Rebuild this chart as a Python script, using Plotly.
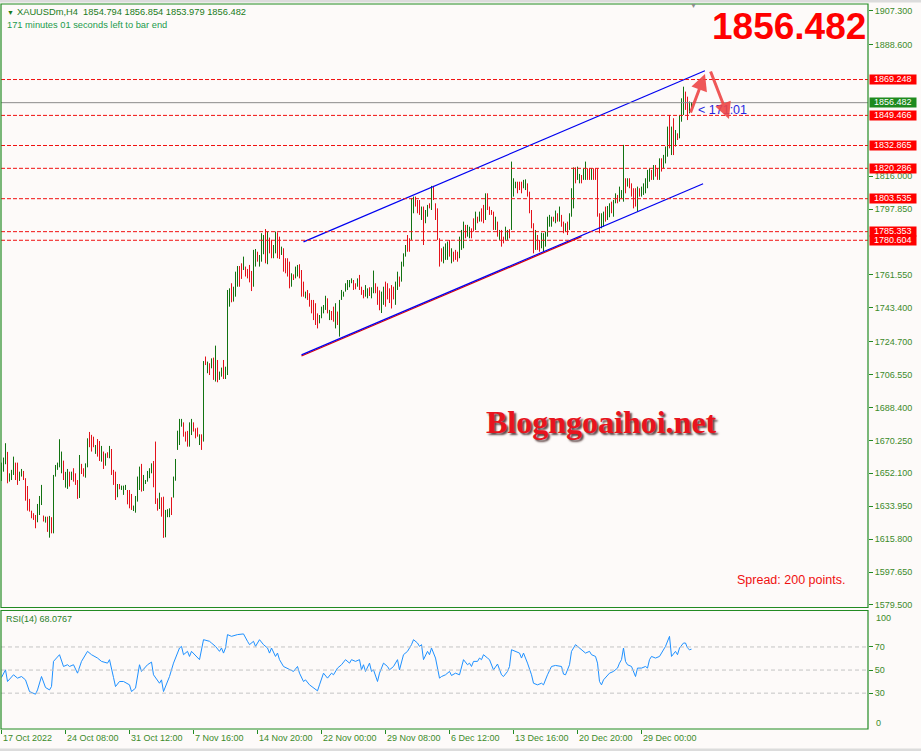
import plotly.graph_objects as go

# ------------------------------------------------------------------ data
dirs = list(
    "GGGRGGGRRG" "GRRRRRRRGG" "GRGRGRGGGG" "GRGGRGRRRG" "RRGGRRRGRR" "GRGRGRRRGR" "GGGRRRGGGG" "RGGGGGRRRG" "RRGGGRG"
    "G"
    "GGGRRRGGRR" "RGRGRGRGRG" "RGGRGGGRGG" "GRRGRRRRGG" "RGGGRGRRGG" "RRGRRRRGRG" "GRRRGRRRRR" "RGGGGRGRRG" "RGGG"
    "GGGGRRGRRR" "GGRGGRRRGG" "RRRRRGGRGG" "GRRGGRRRGR" "GGRGRRRRRG" "GGRGRRRGGG" "RGGRRGRGRR" "GRRRRGRGRR" "GGRGGGR"
    "RRGGRRRRGR" "RGGGGGGRGR" "GRRGRGGGRG" "GRGGRRGRRR" "RGGRGGRGGR" "GGGRGRRRRG" "RGGGGGRGRR" "GRGGGRGRGR" "GGGRRGG"
)

highs = [
    1658.0, 1660.8, 1668.7, 1663.9, 1652.1, 1654.0, 1661.3, 1658.0, 1658.0, 1653.0,
    1654.5, 1653.4, 1649.4, 1645.1, 1638.0, 1631.5, 1630.1, 1629.1, 1635.2, 1639.6,
    1645.7, 1628.8, 1628.2, 1628.2, 1628.6, 1627.9, 1651.2, 1656.7, 1658.0, 1670.9,
    1664.1, 1659.1, 1652.9, 1654.5, 1653.0, 1653.0, 1654.9, 1652.1, 1648.4, 1662.2,
    1657.3, 1654.9, 1657.6, 1671.4, 1674.9, 1673.3, 1672.3, 1667.7, 1671.0, 1669.9,
    1667.2, 1664.1, 1663.1, 1663.7, 1667.2, 1665.5, 1654.0, 1653.0, 1646.2, 1646.2,
    1645.3, 1645.3, 1645.7, 1642.9, 1642.9, 1640.7, 1634.3, 1639.6, 1650.3, 1655.8,
    1657.3, 1651.2, 1648.4, 1653.4, 1654.9, 1657.6, 1658.9, 1669.6, 1638.3, 1641.4,
    1638.9, 1639.2, 1631.9, 1632.3, 1632.8, 1638.9, 1650.3,
    1660.0,
    1675.6, 1682.1, 1682.1, 1680.2, 1675.1, 1675.5, 1680.2, 1682.1, 1680.2, 1676.9,
    1677.3, 1673.6, 1673.6, 1714.0, 1716.5, 1713.7, 1712.8, 1715.5, 1715.9, 1722.5,
    1714.6, 1708.2, 1710.4, 1714.6, 1710.9, 1753.2, 1754.1, 1756.9, 1755.0, 1763.3,
    1766.4, 1766.4, 1767.9, 1771.6, 1766.1, 1764.8, 1767.0, 1763.7, 1775.3, 1775.8,
    1774.3, 1772.5, 1784.5, 1783.5, 1786.8, 1785.4, 1782.1, 1780.8, 1778.0, 1785.4,
    1785.0, 1782.6, 1777.1, 1776.2, 1770.7, 1770.7, 1768.8, 1762.4, 1761.8, 1766.1,
    1767.0, 1767.4, 1764.2, 1757.8, 1752.3, 1753.2, 1751.4, 1747.7, 1747.7, 1745.9,
    1740.3, 1739.4, 1744.0, 1744.9, 1750.0, 1748.6, 1742.2, 1741.6, 1744.0, 1745.9,
    1741.3, 1747.7, 1753.2, 1752.3,
    1756.9, 1758.7, 1758.7, 1759.6, 1758.7, 1756.9, 1759.6, 1761.5, 1755.0, 1753.2,
    1755.9, 1754.1, 1754.7, 1754.7, 1763.9, 1756.9, 1755.0, 1753.0, 1752.3, 1755.0,
    1757.8, 1756.9, 1754.1, 1755.9, 1755.0, 1757.8, 1763.3, 1760.6, 1768.8, 1773.4,
    1778.0, 1783.5, 1781.7, 1803.8, 1804.7, 1804.7, 1802.8, 1802.8, 1799.2, 1799.2,
    1797.3, 1800.1, 1801.0, 1810.6, 1810.6, 1801.0, 1798.2, 1781.7, 1776.2, 1777.1,
    1778.9, 1779.9, 1780.8, 1776.2, 1774.3, 1775.3, 1774.3, 1782.6, 1786.3, 1790.9,
    1789.1, 1789.1, 1788.1, 1787.2, 1792.7, 1796.4, 1793.6, 1796.4, 1798.2, 1800.1,
    1806.5, 1806.5, 1799.2, 1797.3, 1796.4, 1793.6, 1790.9, 1786.3, 1786.3, 1782.6,
    1788.1, 1786.3, 1786.7, 1824.0, 1814.8, 1812.9, 1812.9,
    1812.9, 1812.9, 1813.9, 1814.2, 1812.0, 1807.4, 1797.3, 1790.0, 1786.3, 1783.5,
    1780.8, 1784.8, 1784.5, 1785.4, 1793.6, 1794.6, 1793.6, 1793.6, 1797.0, 1795.5,
    1799.2, 1794.6, 1790.9, 1790.0, 1790.9, 1795.5, 1809.3, 1820.8, 1820.8, 1821.2,
    1817.2, 1816.6, 1820.3, 1824.0, 1820.3, 1820.3, 1820.3, 1820.3, 1820.3, 1820.3,
    1795.5, 1795.5, 1796.4, 1799.2, 1799.5, 1801.0, 1801.9, 1802.8, 1806.5, 1805.6,
    1810.2, 1808.3, 1833.2, 1814.8, 1814.8, 1814.8, 1812.0, 1809.3, 1809.3, 1810.2,
    1809.3, 1810.2, 1812.0, 1814.8, 1819.4, 1820.3, 1819.4, 1822.1, 1822.1, 1820.3,
    1825.8, 1825.8, 1827.7, 1832.3, 1843.3, 1849.7, 1843.3, 1847.9, 1841.4, 1839.6,
    1849.7, 1858.9, 1865.3, 1862.6, 1859.8, 1857.1, 1856.854,
]

lows = [
    1647.9, 1653.0, 1657.1, 1646.6, 1647.5, 1648.4, 1651.2, 1648.4, 1645.7, 1647.9,
    1650.3, 1648.4, 1637.0, 1631.5, 1631.0, 1627.3, 1626.4, 1621.8, 1625.1, 1629.1,
    1634.6, 1625.5, 1624.9, 1619.8, 1616.6, 1619.0, 1619.0, 1650.3, 1654.0, 1655.4,
    1652.1, 1648.4, 1644.2, 1643.5, 1644.8, 1648.4, 1647.5, 1645.7, 1638.0, 1638.5,
    1651.7, 1650.3, 1649.7, 1655.4, 1666.5, 1664.1, 1666.5, 1662.8, 1661.3, 1658.9,
    1658.5, 1654.5, 1656.3, 1660.6, 1660.4, 1651.2, 1645.7, 1637.4, 1638.9, 1643.3,
    1642.9, 1640.2, 1642.9, 1635.0, 1632.8, 1631.9, 1631.3, 1630.4, 1636.5, 1642.9,
    1642.0, 1642.4, 1646.2, 1647.5, 1649.4, 1652.1, 1644.4, 1635.2, 1631.5, 1632.4,
    1628.2, 1616.5, 1616.8, 1627.9, 1627.9, 1629.1, 1638.7,
    1648.0,
    1665.0, 1667.7, 1677.8, 1672.3, 1669.6, 1666.8, 1666.8, 1673.2, 1675.1, 1671.4,
    1672.3, 1667.7, 1665.0, 1669.6, 1711.8, 1707.3, 1706.3, 1710.0, 1703.6, 1702.7,
    1702.3, 1703.6, 1705.4, 1704.1, 1704.1, 1706.3, 1744.0, 1746.4, 1746.8, 1749.5,
    1755.0, 1755.0, 1759.3, 1764.2, 1760.6, 1759.6, 1757.4, 1752.6, 1755.0, 1766.1,
    1768.8, 1766.1, 1768.8, 1772.9, 1767.9, 1767.4, 1773.4, 1770.7, 1770.7, 1773.4,
    1770.7, 1770.3, 1772.5, 1763.3, 1762.4, 1760.6, 1754.1, 1755.0, 1758.7, 1759.6,
    1760.6, 1759.6, 1749.5, 1749.5, 1748.6, 1747.7, 1744.0, 1740.3, 1736.6, 1733.9,
    1732.0, 1734.8, 1737.6, 1740.3, 1742.2, 1740.3, 1736.6, 1736.6, 1735.7, 1732.0,
    1733.9, 1727.5, 1747.7, 1749.5,
    1752.3, 1753.2, 1754.7, 1756.9, 1753.2, 1753.6, 1755.0, 1753.2, 1750.5, 1748.6,
    1749.5, 1748.6, 1749.9, 1748.6, 1751.4, 1751.4, 1745.0, 1742.0, 1740.5, 1745.0,
    1744.0, 1748.0, 1746.0, 1743.0, 1748.0, 1745.0, 1753.2, 1755.0, 1757.8, 1766.1,
    1771.6, 1774.3, 1774.3, 1780.8, 1795.5, 1799.2, 1795.5, 1794.6, 1791.8, 1778.0,
    1790.0, 1793.6, 1798.2, 1797.3, 1802.8, 1791.8, 1780.8, 1766.1, 1768.8, 1767.9,
    1769.8, 1769.8, 1771.6, 1767.9, 1768.8, 1769.8, 1768.8, 1770.7, 1775.3, 1776.2,
    1781.7, 1782.6, 1781.7, 1781.7, 1785.4, 1786.3, 1790.0, 1790.9, 1790.9, 1790.0,
    1791.8, 1797.3, 1794.6, 1794.6, 1786.3, 1786.3, 1782.6, 1780.8, 1777.1, 1778.9,
    1780.8, 1780.8, 1781.7, 1786.3, 1804.7, 1809.3, 1806.5,
    1808.3, 1806.5, 1809.3, 1808.3, 1804.7, 1795.5, 1787.2, 1773.4, 1775.3, 1775.3,
    1774.3, 1776.2, 1774.3, 1777.1, 1782.6, 1788.1, 1788.1, 1790.9, 1790.0, 1790.9,
    1790.9, 1788.1, 1784.5, 1785.4, 1783.5, 1786.3, 1793.6, 1798.2, 1812.0, 1813.9,
    1812.0, 1812.0, 1813.9, 1813.9, 1813.9, 1813.9, 1813.9, 1813.9, 1813.9, 1793.6,
    1784.5, 1787.2, 1788.1, 1790.9, 1791.8, 1793.3, 1795.5, 1793.6, 1801.0, 1801.0,
    1801.9, 1803.8, 1801.9, 1806.5, 1810.2, 1809.3, 1804.7, 1798.2, 1799.2, 1796.4,
    1804.7, 1804.7, 1805.6, 1806.5, 1809.3, 1812.9, 1813.9, 1813.9, 1815.7, 1813.9,
    1813.9, 1818.5, 1820.3, 1823.0, 1826.7, 1831.3, 1827.6, 1827.6, 1832.3, 1835.9,
    1836.8, 1846.0, 1849.7, 1852.5, 1846.9, 1850.6, 1853.979,
]

rsi_bar = [
    0, 2, 3, 6, 8, 10, 12, 14, 17, 18, 20, 22, 24, 25, 26, 29, 31, 33, 34, 36, 38, 40, 43, 45, 48,
    50, 53, 54, 56, 57, 59, 61, 64, 65, 67, 69, 70, 73, 75, 76, 79, 80, 81, 83, 84, 86, 89, 90, 91,
    93, 94, 95, 98, 99, 101, 104, 105, 107, 109, 110, 111, 112, 113, 115, 118, 121, 123, 124, 126,
    127, 129, 131, 133, 134, 135, 137, 138, 139, 141, 144, 146, 148, 149, 151, 152, 154, 157, 158,
    159, 161, 163, 165, 166, 168, 170, 172, 174, 175, 177, 179, 180, 181, 182, 184, 185, 186, 188,
    189, 191, 193, 194, 196, 198, 199, 201, 203, 205, 206, 208, 209, 210, 211, 213, 214, 215, 217,
    219, 220, 222, 224, 225, 227, 229, 231, 233, 234, 235, 236, 238, 239, 240, 241, 243, 244, 246,
    248, 250, 251, 253, 254, 255, 257, 259, 260, 261, 263, 265, 266, 268, 270, 271, 273, 275, 277,
    280, 281, 282, 284, 285, 287, 289, 291, 292, 294, 295, 297, 298, 299, 300, 301, 303, 304, 306,
    308, 309, 310, 311, 312, 313, 315, 317, 318, 320, 322, 323, 324, 325, 327, 329, 330, 332, 334,
    335, 337, 338, 339, 341, 342, 343, 344, 345,
]
rsi_value = [
    43.6, 50.2, 40.1, 45.9, 43.0, 44.4, 41.5, 31.4, 29.1, 32.8, 44.4, 34.9, 32.8, 35.7, 57.5, 63.3,
    53.1, 54.6, 53.1, 54.6, 47.3, 57.5, 66.2, 63.3, 60.4,
    57.5, 56.0, 59.0, 43.6, 35.7, 40.1, 40.1, 37.2, 31.4, 34.3, 54.6, 48.8, 54.6, 56.9, 45.9, 38.6,
    41.5, 31.4, 40.1, 44.4, 56.0, 69.1, 70.5, 63.3,
    66.2, 61.8, 66.2, 60.4, 59.0, 76.3, 74.9, 73.4, 70.5, 66.2, 69.1, 64.7, 69.1, 80.7, 79.2, 80.7,
    81.3, 74.9, 72.0, 74.9,
    70.5, 76.3, 72.0, 69.1, 64.7, 69.1, 61.8, 64.7, 59.0, 53.1, 50.2, 48.8, 53.1, 47.3, 40.1, 41.5,
    37.2, 32.8, 32.0,
    37.2, 47.3, 43.0, 47.3, 45.9, 51.7, 54.6, 59.0, 56.0, 59.0, 57.5, 59.0, 50.2, 54.6, 48.8, 56.0,
    48.8, 50.2, 40.1,
    47.3, 56.0, 53.1, 50.2, 53.1, 59.0, 50.2, 63.3, 66.2, 72.0, 76.3, 73.4, 70.5, 72.0, 59.0, 66.2,
    63.3, 69.1, 60.4,
    43.0, 44.4, 45.9, 48.8, 45.3, 47.3, 45.9, 59.0, 54.6, 56.0, 53.1, 57.5, 57.5, 60.4, 59.0, 63.3,
    60.4, 59.0, 50.2,
    55.2, 45.9, 44.4, 48.8, 53.1, 67.6, 66.2, 64.7, 60.4, 64.7, 56.0, 45.9, 38.6, 37.2, 38.6, 37.2,
    45.9, 53.1, 54.0,
    53.1, 46.5, 45.9, 54.6, 66.2, 72.0, 69.1, 66.2, 64.7, 66.2, 63.3, 61.8, 56.0, 40.1, 37.2, 41.5,
    45.9, 47.3, 48.8,
    51.7, 56.0, 59.0, 69.1, 57.5, 54.6, 53.1, 44.4, 51.7, 51.7, 53.1, 51.7, 59.0, 61.8, 60.4, 61.8,
    64.7, 70.5, 79.2,
    61.8, 66.2, 63.3, 69.1, 73.4, 73.4, 69.1, 67.6, 68.0767,
]

level_prices = [1869.248, 1849.466, 1832.865, 1820.286, 1803.535, 1785.353, 1780.604]
bid_price = 1856.482
# axis ticks that are visible (the others sit under the price labels)
price_ticks = [1907.3, 1888.6, 1816.0, 1797.85, 1761.55, 1743.4, 1724.7, 1706.55,
               1688.4, 1670.25, 1652.1, 1633.95, 1615.8, 1597.65, 1579.5]
rsi_levels = [30, 50, 70]
time_ticks = [0, 32, 64, 96, 128, 160, 192, 224, 256, 288, 320]
time_labels = ["17 Oct 2022", "24 Oct 08:00", "31 Oct 12:00", "7 Nov 16:00", "14 Nov 20:00",
               "22 Nov 00:00", "29 Nov 08:00", "6 Dec 12:00", "13 Dec 16:00", "20 Dec 20:00",
               "29 Dec 00:00"]
channel_upper_x, channel_upper_y = [151, 351.7], [1779.7, 1874.1]
channel_lower_x, channel_lower_y = [150, 350.8], [1717.4, 1811.8]
channel_red_x, channel_red_y = [150, 290], [1716.8, 1782.6]

assert len(highs) == len(lows) == len(dirs), (len(highs), len(lows), len(dirs))
assert len(rsi_bar) == len(rsi_value), (len(rsi_bar), len(rsi_value))

# ------------------------------------------------------------------ layout helpers
W, H = 921, 751
ML, MR, MT, MB = 1, 53, 4, 22
PW, PH = W - ML - MR, H - MT - MB


def px(x):
    return (x - ML) / PW


def py(y):
    return (H - MB - y) / PH


MAIN_DOM = [py(607.5), 1.0]
RSI_DOM = [0.0, py(610.5)]
FRAME = "#238B23"
TXT = "#3C8A2A"
FONT = "Liberation Sans"
GREEN_BAR = "#127212"
RED_BAR = "#E3121B"

fig = go.Figure()

# OHLC bars as vertical high-low strokes
for key, col in (("G", GREEN_BAR), ("R", RED_BAR)):
    xs, ys = [], []
    for i, (h, l, d) in enumerate(zip(highs, lows, dirs)):
        if d == key:
            xs += [i, i, None]
            ys += [l, h, None]
    fig.add_trace(go.Scatter(x=xs, y=ys, mode="lines", line=dict(color=col, width=1),
                             hoverinfo="skip", showlegend=False, xaxis="x", yaxis="y"))

# channel lines
fig.add_trace(go.Scatter(x=channel_red_x, y=channel_red_y, mode="lines",
                         line=dict(color="#E00000", width=1.2), hoverinfo="skip",
                         showlegend=False))
fig.add_trace(go.Scatter(x=channel_lower_x, y=channel_lower_y, mode="lines",
                         line=dict(color="#0000F0", width=1.2), hoverinfo="skip",
                         showlegend=False))
fig.add_trace(go.Scatter(x=channel_upper_x, y=channel_upper_y, mode="lines",
                         line=dict(color="#0000F0", width=1.2), hoverinfo="skip",
                         showlegend=False))

# RSI
fig.add_trace(go.Scatter(x=rsi_bar, y=rsi_value, mode="lines",
                         line=dict(color="#1E90FF", width=1), hoverinfo="skip",
                         showlegend=False, xaxis="x2", yaxis="y2"))

shapes = []
for lv in level_prices:
    shapes.append(dict(type="line", xref="paper", yref="y", x0=0, x1=1, y0=lv, y1=lv,
                       line=dict(color="#F01010", width=1, dash="4px,2px")))
shapes.append(dict(type="line", xref="paper", yref="y", x0=0, x1=1, y0=bid_price, y1=bid_price,
                   line=dict(color="#8A8A8A", width=1)))
for lv in rsi_levels:
    shapes.append(dict(type="line", xref="paper", yref="y2", x0=0, x1=1, y0=lv, y1=lv,
                       line=dict(color="#C4C4C4", width=1, dash="4px,3px")))
# frames
shapes.append(dict(type="rect", xref="paper", yref="paper", x0=0, x1=1,
                   y0=MAIN_DOM[0], y1=MAIN_DOM[1], line=dict(color=FRAME, width=1.2)))
shapes.append(dict(type="rect", xref="paper", yref="paper", x0=0, x1=1,
                   y0=RSI_DOM[0], y1=RSI_DOM[1], line=dict(color=FRAME, width=1.2)))
# top grey strip
shapes.append(dict(type="rect", xref="paper", yref="paper", x0=px(0), x1=px(921),
                   y0=py(2.5), y1=py(0), line=dict(width=0), fillcolor="#DCDCDC"))
# bottom grey strip
shapes.append(dict(type="rect", xref="paper", yref="paper", x0=px(0), x1=px(921),
                   y0=py(751), y1=py(748.5), line=dict(width=0), fillcolor="#DCDCDC"))

ann = []


def label(text, x, y, size=9, color=TXT, anchor="left", family=FONT, **kw):
    d = dict(text=text, xref="paper", yref="paper", x=px(x), y=py(y), xanchor=anchor,
             yanchor="middle", showarrow=False, font=dict(family=family, size=size, color=color))
    d.update(kw)
    ann.append(d)
    return d


# header
label("▼", 5, 12, size=7, color="#1A7A1A")
label("XAUUSDm,H4  1854.794 1856.854 1853.979 1856.482", 15, 12, size=9.3, color="#1A7A1A")
label("171 minutes 01 seconds left to bar end", 5, 25, size=9.3, color="#239A4C")
label("▼", 693, 6, size=7, color="#8C8C8C", anchor="center")
label("RSI(14) 68.0767", 4, 619, size=9, color="#2A7F2A")

# big price
d = label("1856.482", 789, 27, size=37, color="#FF0000", anchor="center")
d["font"]["weight"] = "bold"

# watermark with a drop shadow
d = label("Blogngoaihoi.net", 601, 422, size=32, color="#E8141E", anchor="center",
          family="Liberation Serif")
d["font"]["weight"] = "bold"
d["font"]["shadow"] = "2px 2px 2px rgba(40,10,10,0.75)"

label("Spread: 200 points.", 735, 580, size=12.5, color="#F01010")
label("< 171:01", 696, 110, size=12.5, color="#2828E0")

# arrows
ann.append(dict(x=px(705), y=py(74), xref="paper", yref="paper", ax=-15, ay=40, text="",
                showarrow=True, arrowhead=2, arrowsize=1.1, arrowwidth=3,
                arrowcolor="rgba(238,70,70,0.9)"))
ann.append(dict(x=px(729), y=py(119), xref="paper", yref="paper", ax=-19, ay=-49, text="",
                showarrow=True, arrowhead=2, arrowsize=1.1, arrowwidth=3,
                arrowcolor="rgba(238,70,70,0.9)"))

# price labels on the right axis
for lv in level_prices:
    ann.append(dict(text=f"{lv:.3f}", xref="paper", yref="y", x=px(869.5), y=lv,
                    xanchor="left", yanchor="middle", showarrow=False, bgcolor="#FF0000",
                    width=45, height=8, borderpad=0.25,
                    font=dict(family=FONT, size=9, color="white")))
ann.append(dict(text=f"{bid_price:.3f}", xref="paper", yref="y", x=px(869.5), y=bid_price,
                xanchor="left", yanchor="middle", showarrow=False, bgcolor="#1E8A1E",
                width=45, height=8, borderpad=0.25,
                font=dict(family=FONT, size=9, color="white")))

# RSI 100 / 0 labels
label("100", 874, 617.5, size=9)
label("0", 874, 722.5, size=9)

# time labels
for t, s in zip(time_ticks, time_labels):
    ann.append(dict(text=s, xref="x2", yref="paper", x=t, y=0, xanchor="left", yanchor="top",
                    yshift=-2, xshift=-1, showarrow=False,
                    font=dict(family=FONT, size=9, color=TXT)))

XR = [-0.25, (PW / 2) - 0.25]

fig.update_layout(
    width=W, height=H,
    margin=dict(l=ML, r=MR, t=MT, b=MB, pad=0),
    paper_bgcolor="#FDFAF9", plot_bgcolor="#FDFAF9",
    showlegend=False, hovermode=False,
    shapes=shapes, annotations=ann,
    xaxis=dict(domain=[0, 1], range=XR, anchor="y", showgrid=False, zeroline=False,
               showticklabels=False, showline=False, ticks=""),
    xaxis2=dict(domain=[0, 1], range=XR, anchor="y2", showgrid=False, zeroline=False,
                showticklabels=False, showline=False, ticks="outside", ticklen=4,
                tickwidth=1, tickcolor=FRAME, tickvals=time_ticks),
    yaxis=dict(domain=MAIN_DOM, range=[1578.1, 1910.9], side="right", showgrid=False,
               zeroline=False, showline=False, ticks="outside", ticklen=4, tickwidth=1,
               tickcolor=FRAME, tickvals=price_ticks,
               ticktext=[f"{v:.3f}" for v in price_ticks],
               tickfont=dict(family=FONT, size=9, color=TXT)),
    yaxis2=dict(domain=RSI_DOM, range=[-1.04, 101.57], side="right", showgrid=False,
                zeroline=False, showline=False, ticks="outside", ticklen=4, tickwidth=1,
                tickcolor=FRAME, tickvals=rsi_levels, ticktext=[str(v) for v in rsi_levels],
                tickfont=dict(family=FONT, size=9, color=TXT)),
)

fig.write_html("out.html")
